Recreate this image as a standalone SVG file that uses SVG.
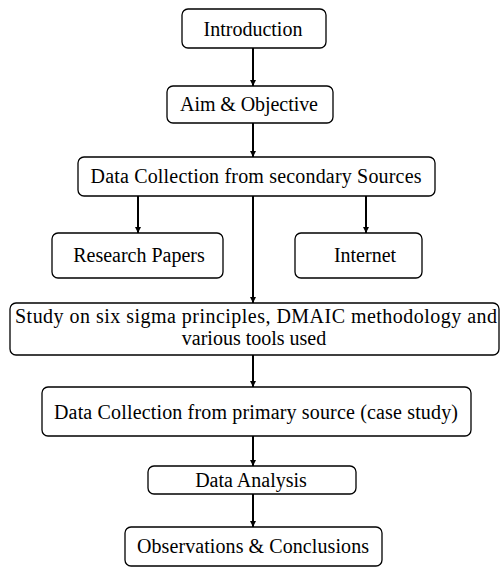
<svg xmlns="http://www.w3.org/2000/svg" width="500" height="567" viewBox="0 0 500 567">
<style>
.box{fill:#fff;stroke:#000;stroke-width:1.3}
.t{font-size:20px;fill:#000;text-anchor:middle}
.c{stroke:#000;stroke-width:2;fill:none;marker-end:url(#ah)}
</style>
<defs>
<marker id="ah" viewBox="0 0 10 10" refX="10" refY="5" markerWidth="3.2" markerHeight="3.2" markerUnits="strokeWidth" orient="auto">
<path d="M0,0 L10,5 L0,10 z" fill="#000"/>
</marker>
</defs>
<rect width="500" height="567" fill="#fff"/>
<g id="connectors">
<line class="c" x1="253" y1="48" x2="253" y2="86"/>
<line class="c" x1="253" y1="123" x2="253" y2="157"/>
<line class="c" x1="138" y1="196" x2="138" y2="233"/>
<line class="c" x1="366" y1="196" x2="366" y2="233"/>
<line class="c" x1="253" y1="196" x2="253" y2="303"/>
<line class="c" x1="253" y1="355" x2="253" y2="387"/>
<line class="c" x1="253" y1="436" x2="253" y2="466"/>
<line class="c" x1="253" y1="494" x2="253" y2="527"/>
</g>
<g font-family="Liberation Serif, Times New Roman, DejaVu Serif, serif">
<g id="intro"><rect class="box" x="182" y="9" width="144" height="39" rx="6"/><text class="t" x="253" y="36">Introduction</text></g>
<g id="aim"><rect class="box" x="167" y="86" width="166" height="37" rx="6"/><text class="t" x="249" y="111" textLength="138" lengthAdjust="spacing">Aim &amp; Objective</text></g>
<g id="secondary"><rect class="box" x="78" y="157" width="357" height="39" rx="6"/><text class="t" x="256" y="183" textLength="331" lengthAdjust="spacing">Data Collection  from secondary Sources</text></g>
<g id="papers"><rect class="box" x="52" y="233" width="171" height="45" rx="6"/><text class="t" x="139" y="262">Research Papers</text></g>
<g id="internet"><rect class="box" x="295" y="233" width="127" height="45" rx="6"/><text class="t" x="365" y="262">Internet</text></g>
<g id="study"><rect class="box" x="10" y="303" width="489" height="52" rx="6"/><text class="t" x="256" y="323" textLength="482" lengthAdjust="spacing">Study on six  sigma principles,  DMAIC methodology and</text><text class="t" x="254" y="345">various tools used</text></g>
<g id="primary"><rect class="box" x="42" y="387" width="429" height="49" rx="6"/><text class="t" x="256" y="419" textLength="404" lengthAdjust="spacing">Data Collection  from primary source (case study)</text></g>
<g id="analysis"><rect class="box" x="148" y="466" width="208" height="28" rx="6"/><text class="t" x="251" y="487">Data Analysis</text></g>
<g id="observations"><rect class="box" x="125" y="527" width="257" height="39" rx="6"/><text class="t" x="253" y="553" textLength="232" lengthAdjust="spacing">Observations  &amp; Conclusions</text></g>
</g>
</svg>
